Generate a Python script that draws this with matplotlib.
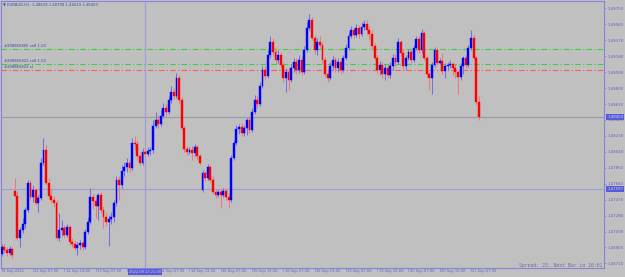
import matplotlib
matplotlib.use("Agg")
import matplotlib.pyplot as plt
import matplotlib.transforms as mtransforms
import numpy as np

plt.rcParams['lines.scale_dashes'] = False

# ---------------- data (EURAUD H1) ----------------
opens = [
 1.4682,1.4691,1.4687,1.4683,1.4688,1.4757,1.4751,1.4701,1.4711,1.4718,
 1.4735,1.4767,1.4750,1.4758,1.4743,1.4749,1.4791,1.4806,1.4767,1.4751,
 1.4747,1.4743,1.4701,1.4711,1.4713,1.4705,1.4714,1.4696,1.4694,1.4689,
 1.4693,1.4695,1.4691,1.4708,1.4720,1.4750,1.4745,1.4739,1.4753,1.4735,
 1.4726,1.4720,1.4724,1.4726,1.4743,1.4770,1.4764,1.4781,1.4786,1.4791,
 1.4785,1.4815,1.4813,1.4799,1.4791,1.4804,1.4801,1.4805,1.4806,1.4835,
 1.4842,1.4837,1.4847,1.4856,1.4852,1.4866,1.4875,1.4871,1.4892,1.4866,
 1.4832,1.4807,1.4804,1.4806,1.4803,1.4810,1.4799,1.4758,1.4779,1.4773,
 1.4786,1.4770,1.4756,1.4753,1.4756,1.4753,1.4757,1.4750,1.4747,1.4797,
 1.4815,1.4831,1.4834,1.4826,1.4832,1.4842,1.4830,1.4852,1.4866,1.4861,
 1.4882,1.4902,1.4894,1.4919,1.4935,1.4923,1.4913,1.4919,1.4907,1.4892,
 1.4899,1.4890,1.4904,1.4911,1.4902,1.4913,1.4899,1.4925,1.4952,1.4961,
 1.4940,1.4925,1.4935,1.4931,1.4913,1.4897,1.4892,1.4906,1.4913,1.4904,
 1.4911,1.4902,1.4916,1.4928,1.4942,1.4949,1.4943,1.4952,1.4944,1.4953,
 1.4956,1.4949,1.4944,1.4930,1.4916,1.4902,1.4907,1.4897,1.4904,1.4896,
 1.4906,1.4916,1.4911,1.4935,1.4922,1.4906,1.4916,1.4923,1.4913,1.4928,
 1.4938,1.4925,1.4946,1.4916,1.4897,1.4892,1.4907,1.4925,1.4910,1.4912,
 1.4900,1.4906,1.4907,1.4909,1.4904,1.4899,1.4893,1.4906,1.4916,1.4907,
 1.4928,1.4940,1.4916,1.48629]
highs = [
 1.4694,1.4695,1.4691,1.4692,1.4691,1.4773,1.4757,1.4714,1.4725,1.4738,
 1.4770,1.4770,1.4764,1.4761,1.4753,1.4797,1.4820,1.4812,1.4773,1.4758,
 1.4751,1.4747,1.4731,1.4723,1.4717,1.4718,1.4717,1.4701,1.4699,1.4696,
 1.4699,1.4698,1.4712,1.4726,1.4761,1.4754,1.4749,1.4755,1.4756,1.4739,
 1.4732,1.4729,1.4732,1.4747,1.4775,1.4775,1.4788,1.4792,1.4797,1.4794,
 1.4820,1.4823,1.4818,1.4804,1.4809,1.4809,1.4810,1.4810,1.4842,1.4852,
 1.4848,1.4854,1.4862,1.4861,1.4871,1.4882,1.4880,1.4898,1.4896,1.4869,
 1.4835,1.4811,1.4810,1.4811,1.4813,1.4812,1.4801,1.4782,1.4781,1.4790,
 1.4788,1.4775,1.4760,1.4758,1.4760,1.4761,1.4761,1.4755,1.4800,1.4818,
 1.4836,1.4837,1.4838,1.4836,1.4844,1.4846,1.4856,1.4872,1.4871,1.4887,
 1.4906,1.4906,1.4925,1.4942,1.4940,1.4928,1.4925,1.4923,1.4911,1.4904,
 1.4904,1.4909,1.4916,1.4916,1.4919,1.4918,1.4930,1.4959,1.4968,1.4965,
 1.4943,1.4940,1.4942,1.4935,1.4917,1.4902,1.4911,1.4918,1.4917,1.4916,
 1.4915,1.4919,1.4933,1.4947,1.4954,1.4953,1.4956,1.4955,1.4959,1.4961,
 1.4961,1.4954,1.4949,1.4934,1.4919,1.4912,1.4911,1.4909,1.4909,1.4911,
 1.4921,1.4921,1.4940,1.4937,1.4925,1.4919,1.4927,1.4925,1.4931,1.4942,
 1.4942,1.4950,1.4948,1.4918,1.4899,1.4911,1.4929,1.4928,1.4916,1.4922,
 1.4910,1.4911,1.4913,1.4911,1.4909,1.4902,1.4910,1.4918,1.4919,1.4931,
 1.4949,1.4943,1.4918,1.48708]
lows = [
 1.4680,1.4683,1.4680,1.4681,1.4677,1.4751,1.4699,1.4691,1.4707,1.4713,
 1.4732,1.4747,1.4744,1.4741,1.4732,1.4747,1.4788,1.4764,1.4748,1.4743,
 1.4738,1.4699,1.4698,1.4704,1.4701,1.4702,1.4693,1.4691,1.4687,1.4681,
 1.4688,1.4687,1.4688,1.4706,1.4718,1.4736,1.4725,1.4723,1.4731,1.4713,
 1.4716,1.4692,1.4718,1.4720,1.4739,1.4747,1.4761,1.4775,1.4780,1.4780,
 1.4782,1.4806,1.4794,1.4788,1.4788,1.4798,1.4799,1.4800,1.4803,1.4832,
 1.4832,1.4835,1.4844,1.4847,1.4849,1.4862,1.4867,1.4868,1.4862,1.4830,
 1.4804,1.4800,1.4801,1.4794,1.4799,1.4794,1.4788,1.4756,1.4769,1.4770,
 1.4768,1.4754,1.4749,1.4750,1.4737,1.4750,1.4747,1.4737,1.4744,1.4794,
 1.4812,1.4825,1.4823,1.4823,1.4824,1.4826,1.4828,1.4849,1.4856,1.4859,
 1.4880,1.4890,1.4892,1.4916,1.4918,1.4909,1.4910,1.4904,1.4887,1.4875,
 1.4878,1.4887,1.4899,1.4897,1.4898,1.4896,1.4897,1.4923,1.4949,1.4937,
 1.4921,1.4919,1.4928,1.4910,1.4893,1.4887,1.4890,1.4902,1.4899,1.4899,
 1.4897,1.4899,1.4913,1.4925,1.4940,1.4940,1.4941,1.4940,1.4942,1.4949,
 1.4944,1.4937,1.4925,1.4913,1.4898,1.4896,1.4892,1.4890,1.4892,1.4892,
 1.4902,1.4906,1.4909,1.4918,1.4902,1.4902,1.4913,1.4910,1.4911,1.4925,
 1.4922,1.4922,1.4913,1.4894,1.4878,1.4873,1.4905,1.4907,1.4909,1.4897,
 1.4892,1.4902,1.4904,1.4896,1.4892,1.4873,1.4890,1.4897,1.4904,1.4905,
 1.4925,1.4913,1.4860,1.48419]
closes = [
 1.4691,1.4687,1.4683,1.4688,1.4681,1.4751,1.4701,1.4711,1.4718,1.4735,
 1.4767,1.4750,1.4758,1.4743,1.4749,1.4791,1.4806,1.4767,1.4751,1.4747,
 1.4743,1.4701,1.4711,1.4713,1.4705,1.4714,1.4696,1.4694,1.4689,1.4693,
 1.4695,1.4691,1.4708,1.4720,1.4750,1.4745,1.4739,1.4753,1.4735,1.4726,
 1.4720,1.4724,1.4726,1.4743,1.4770,1.4764,1.4781,1.4786,1.4791,1.4785,
 1.4815,1.4813,1.4799,1.4791,1.4804,1.4801,1.4805,1.4806,1.4835,1.4842,
 1.4837,1.4847,1.4856,1.4852,1.4866,1.4875,1.4871,1.4892,1.4866,1.4832,
 1.4807,1.4804,1.4806,1.4803,1.4810,1.4799,1.4791,1.4779,1.4773,1.4786,
 1.4770,1.4756,1.4753,1.4756,1.4753,1.4757,1.4750,1.4747,1.4797,1.4815,
 1.4831,1.4834,1.4826,1.4832,1.4842,1.4830,1.4852,1.4866,1.4861,1.4882,
 1.4902,1.4894,1.4919,1.4935,1.4923,1.4913,1.4919,1.4907,1.4892,1.4899,
 1.4890,1.4904,1.4911,1.4902,1.4913,1.4899,1.4925,1.4952,1.4961,1.4940,
 1.4925,1.4935,1.4931,1.4913,1.4897,1.4892,1.4906,1.4913,1.4904,1.4911,
 1.4902,1.4916,1.4928,1.4942,1.4949,1.4943,1.4952,1.4944,1.4953,1.4956,
 1.4949,1.4944,1.4930,1.4916,1.4902,1.4907,1.4897,1.4904,1.4896,1.4906,
 1.4916,1.4911,1.4935,1.4922,1.4906,1.4916,1.4923,1.4913,1.4928,1.4938,
 1.4925,1.4946,1.4916,1.4897,1.4892,1.4907,1.4925,1.4910,1.4912,1.4900,
 1.4906,1.4907,1.4909,1.4904,1.4899,1.4893,1.4906,1.4916,1.4907,1.4928,
 1.4940,1.4916,1.48629,1.48459]

price_ticks = [1.46710, 1.46900, 1.47090, 1.47280, 1.47470, 1.47660, 1.47850,
               1.48040, 1.48230, 1.48420, 1.48610, 1.48800, 1.48990, 1.49180,
               1.49370, 1.49560, 1.49750]
time_tick_bars = [0, 12, 24, 36, 48, 60, 72, 84, 96, 108, 120, 132, 144, 156, 168, 180]
# "13 Sep 19:00" is hidden under the crosshair time box in the reference
time_tick_labels = ["9 Sep 2022", "12 Sep 07:00", "12 Sep 19:00", "13 Sep 07:00",
                    "", "14 Sep 07:00", "14 Sep 19:00", "15 Sep 07:00",
                    "15 Sep 19:00", "16 Sep 07:00", "16 Sep 19:00", "19 Sep 07:00",
                    "19 Sep 19:00", "20 Sep 07:00", "20 Sep 19:00", "21 Sep 07:00"]

order_prices = [1.4927, 1.4909, 1.4902]
order_labels = ["#208865805 sell 1.00", "#208865822 sell 1.00", "#208865822 sl"]
order_colors = ["#3fcf3f", "#3fcf3f", "#ff5a5a"]

bid_price = 1.48459
cross_bar = 55
cross_price = 1.47597
cross_time_label = "2022.09.13 21:00"
title_text = "\u25BC EURAUD,H1  1.48629 1.48708 1.48419 1.48459"
info_text = "Spread: 23. Next Bar in 16:01"

# ---------------- drawing ----------------
BG = "#C0C0C0"
AXC = "#8484e0"
TXT = "#6060c0"

fig = plt.figure(figsize=(6.25, 2.77), dpi=100)
fig.patch.set_facecolor(BG)
ax = fig.add_axes([1/625, 9/277, 603/625, 267/277])
ax.set_facecolor(BG)

o = np.array(opens); h = np.array(highs); l = np.array(lows); c = np.array(closes)
x = np.arange(len(o))
up = c >= o
body_col = np.where(up, "#0000ff", "#ff0000")
wick_col = np.where(up, "#7070e8", "#f07878")

ax.vlines(x, l, h, colors=wick_col, linewidth=0.75, zorder=2)
ax.bar(x, c - o, bottom=o, width=0.72, color=body_col, edgecolor=body_col,
       linewidth=0.3, zorder=3)

# order lines
for p, lab, col in zip(order_prices, order_labels, order_colors):
    ax.axhline(p, color=col, linewidth=0.8, linestyle=(0, (4.0, 1.6, 0.9, 1.6)), zorder=1)
    ax.annotate(lab, xy=(0, p), xycoords=('axes fraction', 'data'),
                xytext=(2.2, 0.6), textcoords='offset points',
                ha='left', va='bottom', fontsize=2.7, color="#4040a8")

# bid line and crosshair
ax.axhline(bid_price, color="#9a9aa6", linewidth=0.8, zorder=1)
ax.axhline(cross_price, color="#9c9cdc", linewidth=0.8, zorder=1)
ax.axvline(cross_bar, color="#9c9cdc", linewidth=0.8, zorder=1)

ax.set_xlim(-0.3, 231.0)
ax.set_ylim(1.46655, 1.49838)

for s in ax.spines.values():
    s.set_color(AXC)
    s.set_linewidth(0.8)

ax.yaxis.tick_right()
ax.set_yticks(price_ticks)
ax.set_yticklabels([f"{v:.5f}" for v in price_ticks])
ax.tick_params(axis='y', length=1.6, width=0.6, pad=1.0, labelsize=2.8,
               colors=AXC, labelcolor=TXT)

ax.set_xticks(time_tick_bars)
ax.set_xticklabels(time_tick_labels)
ax.tick_params(axis='x', length=2.4, width=0.6, pad=-1.6, labelsize=2.6,
               colors=AXC, labelcolor=TXT)
offset = mtransforms.ScaledTranslation(1.0/72, 0, fig.dpi_scale_trans)
for lbl in ax.get_xticklabels():
    lbl.set_ha('left')
    lbl.set_transform(lbl.get_transform() + offset)

# highlighted labels
hl = dict(boxstyle='square,pad=0.25', facecolor="#5a5ad6", edgecolor='none')
for p, t in [(bid_price, f"{bid_price:.5f}"), (cross_price, f"{cross_price:.5f}")]:
    ax.annotate(t, xy=(1, p), xycoords=('axes fraction', 'data'),
                xytext=(2.2, 0), textcoords='offset points', ha='left', va='center',
                fontsize=2.8, color="#d0d0f8", bbox=hl, zorder=10, annotation_clip=False)
ax.annotate(cross_time_label, xy=(cross_bar, 0), xycoords=('data', 'axes fraction'),
            xytext=(0, -1.2), textcoords='offset points', ha='center', va='top',
            fontsize=2.6, color="#d0d0f8", bbox=hl, zorder=10, annotation_clip=False)

fig.text(3/625, 1 - 4.5/277, title_text, ha='left', va='center', fontsize=2.7,
         color="#4848a8")
fig.text(602/625, 1 - 265/277, info_text, ha='right', va='center', fontsize=3.5,
         family='DejaVu Sans Mono', color="#7070a0")

fig.savefig("out.png", dpi=100, facecolor=BG)
